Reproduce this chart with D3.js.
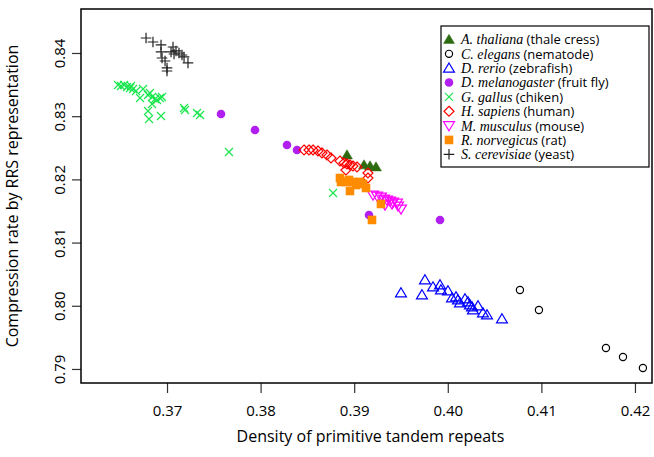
<!DOCTYPE html>
<meta charset="utf-8">
<script src="https://cdn.jsdelivr.net/npm/d3@7"></script>
<style>
  body { margin: 0; background: #fff; }
  text { font-family: "Open Sans", sans-serif; }
</style>
<div id="my_dataviz"></div>
<script>

// ---- data ----
var thaliana = [[0.38923,0.82386],[0.39105,0.82228],[0.39169,0.82212],[0.39233,0.82196]];
var elegans = [[0.40771,0.80250],[0.40974,0.79934],[0.41690,0.79332],[0.41872,0.79190],[0.42085,0.79016]];
var rerio = [[0.39500,0.80203],[0.39756,0.80408],[0.39724,0.80171],[0.39842,0.80297],[0.39917,0.80329],
  [0.39927,0.80250],[0.40002,0.80234],[0.40045,0.80123],[0.40088,0.80139],[0.40109,0.80092],
  [0.40130,0.80044],[0.40184,0.80108],[0.40216,0.80060],[0.40237,0.80013],[0.40259,0.79981],
  [0.40269,0.79934],[0.40323,0.79997],[0.40376,0.79886],[0.40419,0.79855],[0.40579,0.79791]];
var melanogaster = [[0.37577,0.83035],[0.37940,0.82782],[0.38282,0.82544],[0.38389,0.82465],
  [0.39158,0.81437],[0.39917,0.81358]];
var gallus = [[0.36477,0.83494],[0.36509,0.83478],[0.36541,0.83494],[0.36573,0.83462],[0.36605,0.83446],
  [0.36615,0.83478],[0.36637,0.83430],[0.36669,0.83399],[0.36712,0.83288],[0.36744,0.83430],
  [0.36797,0.83335],[0.36818,0.83367],[0.36840,0.83304],[0.36872,0.83272],[0.36893,0.83256],
  [0.36925,0.83288],[0.36947,0.83304],[0.36840,0.83193],[0.36797,0.83082],[0.36808,0.82956],
  [0.36936,0.83003],[0.37182,0.83130],[0.37192,0.83098],[0.37321,0.83051],[0.37353,0.83019],
  [0.37662,0.82434],[0.38774,0.81785]];
var sapiens = [[0.38464,0.82465],[0.38517,0.82465],[0.38560,0.82465],[0.38613,0.82449],[0.38656,0.82418],
  [0.38709,0.82386],[0.38752,0.82339],[0.38848,0.82291],[0.38891,0.82259],[0.38923,0.82244],
  [0.38955,0.82228],[0.38987,0.82212],[0.39030,0.82196],[0.38912,0.82149],[0.39147,0.82101],
  [0.39147,0.82022]];
var musculus = [[0.39201,0.81753],[0.39244,0.81737],[0.39286,0.81722],[0.39318,0.81690],[0.39350,0.81674],
  [0.39382,0.81658],[0.39415,0.81642],[0.39457,0.81627],[0.39500,0.81532],[0.39329,0.81595],
  [0.39404,0.81611],[0.39468,0.81579]];
var norvegicus = [[0.38848,0.82022],[0.38859,0.81959],[0.38912,0.81959],[0.38944,0.81991],[0.38987,0.81959],
  [0.39019,0.81911],[0.39062,0.81959],[0.39094,0.81927],[0.38955,0.81816],[0.39126,0.81864],
  [0.39286,0.81611],[0.39190,0.81358]];
var cerevisiae = [[0.36776,0.84237],[0.36850,0.84174],[0.36936,0.84127],[0.36936,0.84016],[0.36947,0.83921],
  [0.36979,0.83873],[0.37000,0.83763],[0.37000,0.83715],[0.37043,0.84016],[0.37064,0.84095],
  [0.37096,0.84032],[0.37128,0.84000],[0.37160,0.83968],[0.37182,0.83937],[0.37224,0.83842],
  [0.37075,0.83984]];

var xTicks = [0.37, 0.38, 0.39, 0.40, 0.41, 0.42];
var yTicks = [0.79, 0.80, 0.81, 0.82, 0.83, 0.84];
var xTitle = "Density of primitive tandem repeats";
var yTitle = "Compression rate by RRS representation";

// species: italic name, common name, points, shape, colour, filled?
var species = [
  {name: "A. thaliana", common: "(thale cress)", pts: thaliana, shape: "tri", color: "#2d6a10", fill: true},
  {name: "C. elegans", common: "(nematode)", pts: elegans, shape: "circle", color: "#000", fill: false},
  {name: "D. rerio", common: "(zebrafish)", pts: rerio, shape: "tri", color: "#0000ff", fill: false},
  {name: "D. melanogaster", common: "(fruit fly)", pts: melanogaster, shape: "circle", color: "#b01ef0", fill: true},
  {name: "G. gallus", common: "(chiken)", pts: gallus, shape: "times", color: "#1de650", fill: false},
  {name: "H. sapiens", common: "(human)", pts: sapiens, shape: "diamond", color: "#ff0000", fill: false},
  {name: "M. musculus", common: "(mouse)", pts: musculus, shape: "triDown", color: "#ff00ff", fill: false},
  {name: "R. norvegicus", common: "(rat)", pts: norvegicus, shape: "square", color: "#ff8c00", fill: true},
  {name: "S. cerevisiae", common: "(yeast)", pts: cerevisiae, shape: "plus", color: "#222", fill: false}
];

// set the dimensions and margins of the graph
var margin = {top: 9, right: 2, bottom: 74, left: 81},
    width = 654 - margin.left - margin.right,
    height = 457 - margin.top - margin.bottom;

var svg = d3.select("#my_dataviz")
  .append("svg")
    .attr("width", 654)
    .attr("height", 457)
  .append("g")
    .attr("transform", "translate(" + margin.left + "," + margin.top + ")");

var x = d3.scaleLinear().domain([0.36081, 0.42182]).range([0, width]);
var y = d3.scaleLinear().domain([0.78778, 0.84696]).range([height, 0]);

// custom symbol paths (size = half width in px)
function shapePath(shape, r) {
  switch (shape) {
    case "tri": return "M0," + (-r) + "L" + (r * 1.05) + "," + (r * 0.75) + "L" + (-r * 1.05) + "," + (r * 0.75) + "Z";
    case "triDown": return "M0," + r + "L" + (r * 1.05) + "," + (-r * 0.75) + "L" + (-r * 1.05) + "," + (-r * 0.75) + "Z";
    case "diamond": return "M0," + (-r) + "L" + r + ",0L0," + r + "L" + (-r) + ",0Z";
    case "square": return "M" + (-r) + "," + (-r) + "h" + (2 * r) + "v" + (2 * r) + "h" + (-2 * r) + "Z";
    case "plus": return "M" + (-r) + ",0H" + r + "M0," + (-r) + "V" + r;
    case "times": return "M" + (-r) + "," + (-r) + "L" + r + "," + r + "M" + (-r) + "," + r + "L" + r + "," + (-r);
    case "circle": return d3.arc()({innerRadius: 0, outerRadius: r, startAngle: 0, endAngle: 2 * Math.PI});
  }
}
var sizes = {tri: 5.2, triDown: 5.2, diamond: 5, square: 4.3, plus: 5.3, times: 4, circle: 4};
function circleR(s) { return s.fill ? 4.3 : 3.6; }

function drawSymbol(sel, s) {
  var r = s.shape === "circle" ? circleR(s) : sizes[s.shape];
  sel.attr("d", shapePath(s.shape, r))
    .attr("fill", s.fill ? s.color : "none")
    .attr("stroke", s.fill && s.shape !== "tri" ? "none" : s.color)
    .attr("stroke-width", s.fill ? 0.5 : 1.2);
}

// points
species.forEach(function(s) {
  svg.append("g").selectAll("path")
    .data(s.pts)
    .enter()
    .append("path")
      .attr("transform", function(d) { return "translate(" + x(d[0]) + "," + y(d[1]) + ")"; })
      .call(drawSymbol, s);
});

// axes
var xAxis = svg.append("g")
  .attr("transform", "translate(0," + height + ")")
  .call(d3.axisBottom(x).tickValues(xTicks).tickSize(10).tickPadding(12).tickFormat(d3.format(".2f")));
var yAxis = svg.append("g")
  .call(d3.axisLeft(y).tickValues(yTicks).tickSize(9).tickPadding(6).tickFormat(d3.format(".2f")));
[xAxis, yAxis].forEach(function(a) {
  a.select(".domain").remove();
  a.selectAll("line").attr("stroke", "#333").attr("stroke-width", 1.2);
  a.selectAll("text").attr("fill", "#000").style("font-size", "15px").style("font-family", "'Open Sans', sans-serif");
});
yAxis.selectAll("text")
  .attr("text-anchor", "middle")
  .attr("transform", function() {
    return "translate(" + (-21) + ",0) rotate(-90)";
  })
  .attr("x", 0).attr("dy", "0.35em");

// plot box
svg.append("rect")
  .attr("width", width).attr("height", height)
  .attr("fill", "none").attr("stroke", "#000").attr("stroke-width", 1.5);

// axis titles
svg.append("text")
  .attr("x", width / 2 + 4).attr("y", height + 59)
  .attr("text-anchor", "middle")
  .style("font-size", "16px")
  .text(xTitle);
svg.append("text")
  .attr("transform", "translate(" + (-63) + "," + (height / 2) + ") rotate(-90)")
  .attr("text-anchor", "middle")
  .style("font-size", "16px")
  .text(yTitle);

// legend
var legend = d3.select("svg").append("g").attr("transform", "translate(441,26)");
legend.append("rect")
  .attr("width", 208).attr("height", 141)
  .attr("fill", "#fff").attr("stroke", "#000").attr("stroke-width", 1.2);
var rows = legend.selectAll(".row")
  .data(species)
  .enter()
  .append("g")
    .attr("class", "row")
    .attr("transform", function(d, i) { return "translate(0," + (13.5 + i * 14.35) + ")"; });
rows.append("path")
  .attr("transform", "translate(8,0)")
  .each(function(d) { d3.select(this).call(drawSymbol, d); });
var lt = rows.append("text")
  .attr("x", 20).attr("dy", "0.35em")
  .style("font-size", "14px");
lt.append("tspan")
  .style("font-family", "'Liberation Serif', serif")
  .style("font-style", "italic")
  .text(function(d) { return d.name; });
lt.append("tspan")
  .style("font-family", "'Open Sans', sans-serif")
  .style("font-size", "13px")
  .text(function(d) { return " " + d.common; });

</script>
